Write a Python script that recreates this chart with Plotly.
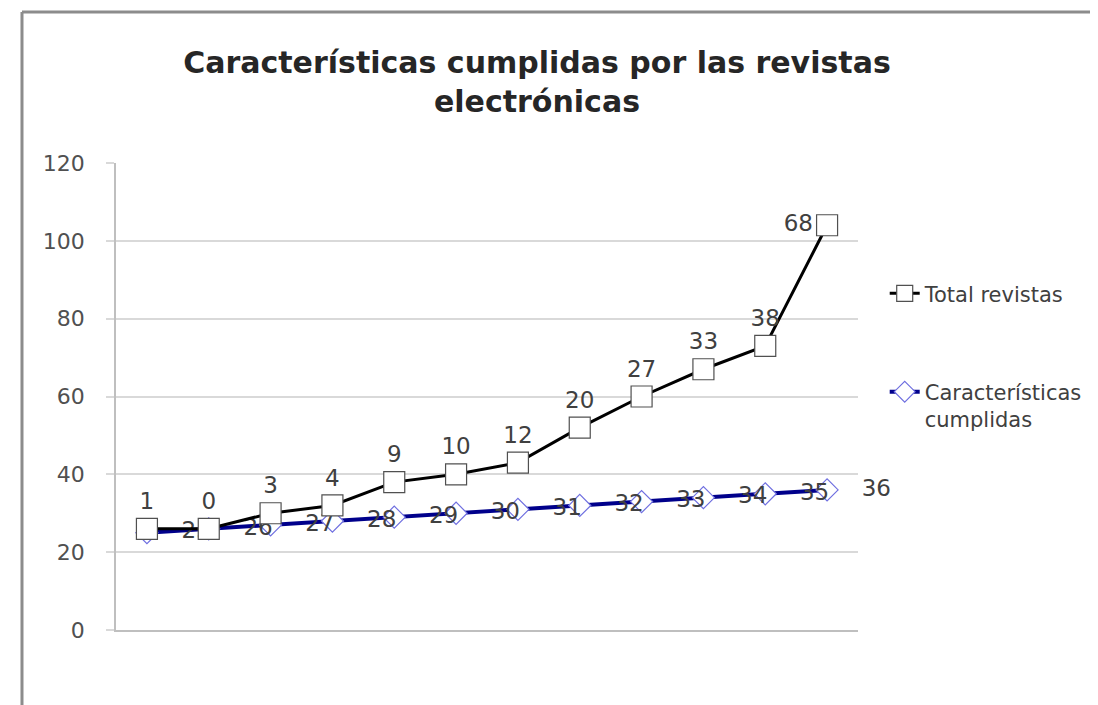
import plotly.graph_objects as go

# categories (no labels shown on the x axis in the original)
categorias = ["1", "2", "3", "4", "5", "6", "7", "8", "9", "10", "11", "12"]
# stacked line chart: "Total revistas" sits on top of "Caracteristicas cumplidas"
caracteristicas = [25, 26, 27, 28, 29, 30, 31, 32, 33, 34, 35, 36]
total_revistas = [1, 0, 3, 4, 9, 10, 12, 20, 27, 33, 38, 68]
y_ticks = [0, 20, 40, 60, 80, 100, 120]

FONT = "DejaVu Sans"
GRIS = "#404040"

# last label of the top series sits to the left (as in the original)
pos_total = ["top center"] * (len(total_revistas) - 1) + ["middle left"]

fig = go.Figure()

fig.add_trace(go.Scatter(
    x=categorias, y=caracteristicas,
    name="Características<br>cumplidas",
    stackgroup="s", fill="none",
    mode="lines+markers+text",
    line=dict(color="#00008b", width=4),
    marker=dict(symbol="diamond", size=17, color="white",
                line=dict(color="#6f6fe0", width=1.2)),
    text=[str(v) for v in caracteristicas],
    texttemplate="\u2003%{text}",
    textposition="middle right",
    textfont=dict(family=FONT, size=23, color=GRIS),
    cliponaxis=False,
    legendgroup="b", legendrank=2,
))

fig.add_trace(go.Scatter(
    x=categorias, y=total_revistas,
    name="Total revistas",
    stackgroup="s", fill="none",
    mode="lines+markers+text",
    line=dict(color="black", width=3),
    marker=dict(symbol="square", size=21, color="white",
                line=dict(color="#505050", width=1.2)),
    text=[str(v) for v in total_revistas],
    textposition=pos_total,
    textfont=dict(family=FONT, size=23, color=GRIS),
    cliponaxis=False,
    legendgroup="a", legendrank=1,
))

fig.update_layout(
    width=1090, height=697,
    paper_bgcolor="white", plot_bgcolor="white",
    margin=dict(l=108, r=240, t=155, b=75, autoexpand=False),
    font=dict(family=FONT, color=GRIS),
    title=dict(
        text="Características cumplidas por las revistas<br>electrónicas",
        x=0.4853, xanchor="center", y=0.907, yanchor="top",
        font=dict(family=FONT, size=30, color="#262626", weight="bold"),
    ),
    legend=dict(
        x=1.036, xanchor="left", y=0.764, yanchor="top",
        traceorder="grouped", tracegroupgap=68, valign="top",
        font=dict(family=FONT, size=21, color=GRIS),
        bgcolor="rgba(0,0,0,0)",
    ),
    xaxis=dict(
        type="category", range=[-0.5, 11.5],
        showticklabels=False, showgrid=False, ticks="",
        showline=True, linecolor="#bfbfbf", linewidth=1.5,
        zeroline=False,
    ),
    yaxis=dict(
        range=[0, 120], tickvals=y_ticks,
        showgrid=True, gridcolor="#d9d9d9", gridwidth=2,
        ticks="outside", ticklen=8, tickcolor="#d9d9d9", tickwidth=2,
        ticklabelstandoff=17,
        showline=True, linecolor="#bfbfbf", linewidth=1.5,
        zeroline=False,
        tickfont=dict(family=FONT, size=22, color="#505050"),
    ),
    shapes=[
        dict(type="line", xref="paper", yref="paper",
             x0=-0.1267, x1=1.5, y0=1.3233, y1=1.3233,
             line=dict(color="#8c8c8c", width=3)),
        dict(type="line", xref="paper", yref="paper",
             x0=-0.1267, x1=-0.1267, y0=-0.2, y1=1.3233,
             line=dict(color="#8c8c8c", width=3)),
    ],
)

fig.write_html("out.html")
